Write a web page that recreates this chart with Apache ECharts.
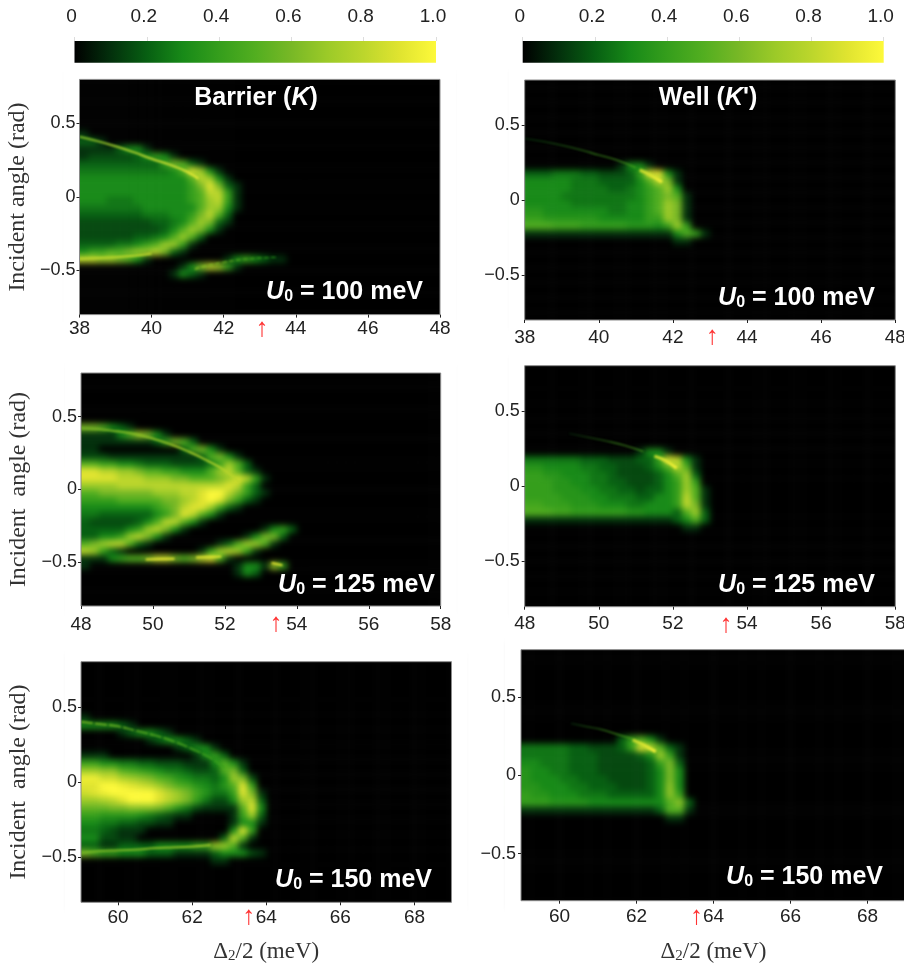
<!DOCTYPE html>
<html><head><meta charset="utf-8">
<script src="https://cdn.jsdelivr.net/npm/echarts@6/dist/echarts.min.js"></script>
<style>html,body{margin:0;padding:0;background:#fff;overflow:hidden;width:904px;height:967px}#c{width:940px;height:967px}</style>
</head><body><div id="c"></div>
<script>
// Heat rows: top row y=0.8..0.75, each row 0.05 rad; each column 0.25 meV.
// Digit = value*10; h .15, j .25, k .35, m .45, n .55, p .65, q .75, r .85, s .95, a 1.0
const rowsBarrier100 = ["","","","","","","",
"1","221","1111233 1","1hhhhh23431","22222222 246521","jjjjjjjjjj 359731","333333333333 58731","333333333333 469621","333333333333 458841","333jjj333333 457841","jjjjjjj33333 3 57731","2222222jjj33 468 52","hhhhhhhh22j3 576 21","hhhhhhhhh2 3576 31","hhhhhh22j3 5752","2222jj3457741","34455 6778621","88776 531 00000000 1343211","00000000000 1368741","0000000000 1321"];
const rowsWell100 = ["","","","","","","","","","","","0000000000 1331",
"222jjj22hhh 249931","33333jjj222 2 35861","33333jjjj22j 34573","3333jjjjjjjj 345651","33333jjjjjj3 345761","kk3333333jj3 345761","44kkkkkk3333 344761","555mmm44444k kk3474","111111111111111 13541","0000000000000000 11"];
const rowsBarrier125 = ["","","","","","","",
"66532 1","1111 357631","11111111 246 52","1100000000 0 25631","hhh1111111111 25631","55443 3j222hhhhj 4752","99887 76554433 3 5785 21","9999 8887776655 56798 41","7777 8888888888 88 98 42","5566 666 677788 9aa864 21","4444 555556678 9a96421","33333333 456899 7421","jj222222 3469853 1","2hhhhh235 88 5 31","22222347 86 31 00000000 1342","22334 7 8 6 3 1 00000000 13662","567885 21 0000000 125775 1","87421 00000000 1 47874 1","11134 556 88 656 8951","1 0000000000000000 1331 74","00000000000000000 132"];
const rowsWell125 = ["","","","","","","","","","","","000000000000 1331",
"jjjjjj222hhh22 49831","kk3333jj22hhh 23 5851","44kk333jj2hhhh 23572","444kk33jj22hhh 23474","444kkk33jj22h 2234751","4444kkk33jjj2 2334851","mm444kkk333jj 3334861","555mm444444kk 3332572","111111111111111 12352","00000000000000000 11"];
const rowsBarrier150 = ["","","","","","","",
"1","333321","0000123321","0000000123321","000000000012331","111000000000 1342","4433jj22hhh111 3531","77pp5m4k3jj2hh2562","ssrrq7p65mk3jj2376h","99aas9r8765mk3jk594","r9saaaaa9876mkjj4961","77q89aaa98764jhh3782","nnn66ppp65kjh111159 3","44kkkk3j2h110000 1472","33jj22hh11000000 1331","jj2h111000000000 394","33hh11000000000 2851","221122223333 447751","65443332221111 2333h1","00000000000000 11"];
const rowsWell150 = ["","","","","","","","","","","","0000000000 24531",
"jjjjj22hhh24 98521","jjjjj222hhhh 23741","33jjj222hhhhh2 462","k33jj222hhhhh 2363","k333jj222hhhh2363","kk333jj222hhh23p3","4kk333jjj22222 3p4","444kkkk33333333 5p2","11111111111111 2551","000000000000000 11"];

const xTicksA = [38,40,42,44,46,48];
const xTicksB = [48,50,52,54,56,58];
const xTicksC = [60,62,64,66,68];
const yTicks = [-0.5,0,0.5];
const colorTicks = [0,0.2,0.4,0.6,0.8,1];

// Thin ridges
const ridgeA1x=[38,38.5,39,39.5,40,40.5,41,41.3], ridgeA1y=[0.41,0.38,0.345,0.305,0.26,0.22,0.17,0.125];
const ridgeA2x=[38,38.5,39,39.5,40], ridgeA2y=[-0.42,-0.415,-0.41,-0.4,-0.385];
const ridgeA3x=[41.2,41.5,42,42.5,43,43.5], ridgeA3y=[-0.49,-0.47,-0.445,-0.425,-0.415,-0.41];
const ridgeB1x=[38,38.5,39,39.5,40,40.5,41], ridgeB1y=[0.41,0.39,0.365,0.335,0.3,0.265,0.215];
const ridgeB2x=[41.1,41.4,41.7], ridgeB2y=[0.2,0.165,0.12];
const ridgeC1x=[48,48.5,49,49.5,50,50.5,51,51.5,52,52.4], ridgeC1y=[0.42,0.415,0.4,0.38,0.35,0.31,0.26,0.2,0.13,0.05];
const ridgeC2x=[49.8,50.2,50.6], ridgeC2y=[-0.48,-0.478,-0.475];
const ridgeC3x=[51.2,51.6,51.9], ridgeC3y=[-0.467,-0.463,-0.46];
const ridgeC5x=[53.3,53.6], ridgeC5y=[-0.505,-0.52];
const ridgeD1x=[49.2,49.7,50.2,50.7,51.2], ridgeD1y=[0.35,0.325,0.3,0.27,0.23];
const ridgeD2x=[51.5,51.8,52.1], ridgeD2y=[0.2,0.17,0.12];
const ridgeE1x=[59,59.5,60,60.5,61,61.5,62,62.5,62.9], ridgeE1y=[0.4,0.385,0.37,0.34,0.31,0.27,0.22,0.16,0.09];
const ridgeE2x=[59,59.5,60,60.5,61,61.5,62,62.5], ridgeE2y=[-0.47,-0.46,-0.455,-0.45,-0.44,-0.435,-0.43,-0.42];
const ridgeF1x=[60.3,60.7,61.1,61.5,61.9], ridgeF1y=[0.33,0.31,0.29,0.26,0.23];
const ridgeF2x=[61.9,62.2,62.5], ridgeF2y=[0.225,0.19,0.15];

const arrowX = [43.06,43.06,53.42,53.43,63.53,63.56];
const cmap = ['#000000','#03300c','#075f12','#188a18','#359e1c','#52ae20','#78b826','#9cca28','#bcd62c','#e0e430','#fdf93a'];
const halfSteps = {h:.15,j:.25,k:.35,m:.45,n:.55,p:.65,q:.75,r:.85,s:.95,a:1};

const panels = [
 {rows:rowsBarrier100,x0:38,x1:48,ticks:xTicksA,l:79.5,r:440,t:79.4,b:314.6,lm:5,ym:4,arrowDy:14,u:'100',ux:423,uy:292,ytitle:'Incident angle (rad)',yg:50,head:'{b|Barrier (}{i|K}{b|)}',hx:256,hy:98},
 {rows:rowsWell100,x0:38,x1:48,ticks:xTicksA,l:524.7,r:895.3,t:80,b:320,lm:8,ym:5,arrowDy:17,u:'100',ux:875,uy:298,head:"{b|Well (}{i|K}{b|')}",hx:708,hy:98},
 {rows:rowsBarrier125,x0:48,x1:58,ticks:xTicksB,l:81,r:440.7,t:373,b:606,lm:9,ym:4,arrowDy:18,u:'125',ux:435,uy:585,ytitle:'Incident  angle (rad)',yg:50},
 {rows:rowsWell125,x0:48,x1:58,ticks:xTicksB,l:524.7,r:895.3,t:365.7,b:606.7,lm:8,ym:5,arrowDy:18,u:'125',ux:875,uy:585},
 {rows:rowsBarrier150,x0:59,x1:69,ticks:xTicksC,l:81,r:451.5,t:661.7,b:902.3,lm:6,ym:4,arrowDy:15,u:'150',ux:432,uy:880,ytitle:'Incident  angle (rad)',yg:50,xtitle:true,xg:38.5},
 {rows:rowsWell150,x0:59,x1:69,ticks:xTicksC,l:521,r:906,t:649.7,b:900.7,lm:7,ym:5,arrowDy:16,u:'150',ux:883,uy:877,xtitle:true,xg:40}
];
const ridges = [
 {p:0,x:ridgeA1x,y:ridgeA1y,c:['#7cba28','#e8ea36'],w:2},{p:0,x:ridgeA2x,y:ridgeA2y,c:['#bcd62c','#bcd62c'],w:2},{p:0,x:ridgeA3x,y:ridgeA3y,c:['#9cca28','#188a18'],w:1.3,dash:[5,2]},
 {p:1,x:ridgeB1x,y:ridgeB1y,c:['#03300c','#52ae20'],w:1.2},{p:1,x:ridgeB2x,y:ridgeB2y,c:['#bcd62c','#f8f238'],w:3},
 {p:2,x:ridgeC1x,y:ridgeC1y,c:['#78b826','#bcd62c'],w:1.8},{p:2,x:ridgeC2x,y:ridgeC2y,c:['#e0e430','#e0e430'],w:2},{p:2,x:ridgeC3x,y:ridgeC3y,c:['#e0e430','#e0e430'],w:2},{p:2,x:ridgeC5x,y:ridgeC5y,c:['#e0e430','#e0e430'],w:2},
 {p:3,x:ridgeD1x,y:ridgeD1y,c:['#03200a','#52ae20'],w:1.2},{p:3,x:ridgeD2x,y:ridgeD2y,c:['#bcd62c','#f8f238'],w:3},
 {p:4,x:ridgeE1x,y:ridgeE1y,c:['#8cc428','#359e1c'],w:1.5,dash:[12,2]},{p:4,x:ridgeE2x,y:ridgeE2y,c:['#78b826','#a8cc2c'],w:1.7},
 {p:5,x:ridgeF1x,y:ridgeF1y,c:['#03200a','#52ae20'],w:1.2},{p:5,x:ridgeF2x,y:ridgeF2y,c:['#bcd62c','#f8f238'],w:3}
];

const SANS='"Liberation Sans",Arial,sans-serif', SERIF='"Liberation Serif","Times New Roman",serif';
const nx=40, ny=32, minus=v=>String(v).replace('-','\u2212');
const grid=[],xAxis=[],yAxis=[],series=[],heatIdx=[],masks=[],texts=[];
const richText={b:{fontFamily:SANS,fontWeight:'bold',fontSize:25,fill:'#fff'},i:{fontFamily:SANS,fontWeight:'bold',fontStyle:'italic',fontSize:25,fill:'#fff'},s:{fontFamily:SANS,fontWeight:'bold',fontSize:16,fill:'#fff',verticalAlign:'bottom',padding:[8,0,0,0]}};
const cellValue=c=>{if(!c) return 0; return c in halfSteps?halfSteps[c]:+c/10;};

panels.forEach((p,k)=>{
  const cw=(p.r-p.l)/nx, ch=(p.b-p.t)/ny;
  // padded heat grid: one extra cell each side so the soft layer reaches the frame
  grid.push({left:p.l-cw,top:p.t-ch,width:p.r-p.l+2*cw,height:p.b-p.t+2*ch,show:false});
  const hg=grid.length-1;
  xAxis.push({type:'category',gridIndex:hg,show:false,data:Array.from({length:nx+2},(_,i)=>i)});
  yAxis.push({type:'category',gridIndex:hg,show:false,data:Array.from({length:ny+2},(_,i)=>i)});
  const hx=xAxis.length-1, hy=yAxis.length-1;
  const data=[];
  for(let iy=0;iy<ny+2;iy++){
    const row=iy>=1&&iy<=ny?(p.rows[iy-1]||'').replace(/ /g,''):'';
    for(let ix=0;ix<nx+2;ix++){
      const c=iy>=1&&iy<=ny?(ix===0?row[0]:row[ix-1]):'0';
      data.push([ix,ny+1-iy,cellValue(c)]);
    }
  }
  heatIdx.push(series.length);
  series.push({type:'heatmap',xAxisIndex:hx,yAxisIndex:hy,data,zlevel:0,animation:false,progressive:0,silent:true,itemStyle:{borderWidth:0}});

  grid.push({left:p.l,top:p.t,width:p.r-p.l,height:p.b-p.t,show:true,backgroundColor:'transparent',borderColor:'#8a8a8a',borderWidth:1,zlevel:3});
  const ag=grid.length-1;
  xAxis.push({type:'value',gridIndex:ag,min:p.x0,max:p.x1,zlevel:3,splitLine:{show:false},axisLine:{show:false,onZero:false},
    axisTick:{show:true,length:3,lineStyle:{color:'#222'},customValues:p.ticks},
    axisLabel:{customValues:p.ticks,margin:p.lm,fontFamily:SANS,fontSize:19,color:'#222'},
    name:p.xtitle?'{n|\u0394}{m|2}{n|/2 (meV)}':'',nameLocation:'middle',nameGap:p.xg||0,
    nameTextStyle:{rich:{n:{fontFamily:SERIF,fontSize:23,color:'#333'},m:{fontFamily:SERIF,fontSize:15,color:'#333',verticalAlign:'bottom',padding:[8,0,0,0]}}}});
  yAxis.push({type:'value',gridIndex:ag,min:-0.8,max:0.8,zlevel:3,splitLine:{show:false},axisLine:{show:false,onZero:false},
    axisTick:{show:true,length:3,lineStyle:{color:'#222'},customValues:yTicks},
    axisLabel:{customValues:yTicks,margin:p.ym,fontFamily:SANS,fontSize:18,color:'#222',formatter:minus},
    name:p.ytitle||'',nameLocation:'middle',nameGap:p.yg||0,nameRotate:90,nameTextStyle:{fontFamily:SERIF,fontSize:24,color:'#333'}});
  const ax=xAxis.length-1, ay=yAxis.length-1;
  ridges.filter(r=>r.p===k).forEach(r=>{
    series.push({type:'line',xAxisIndex:ax,yAxisIndex:ay,data:r.x.map((v,i)=>[v,r.y[i]]),smooth:true,showSymbol:false,symbol:'none',animation:false,silent:true,zlevel:1,
      lineStyle:{color:new echarts.graphic.LinearGradient(0,0,1,0,[{offset:0,color:r.c[0]},{offset:1,color:r.c[1]}]),width:r.w,type:r.dash||'solid'}});
  });
  series.push({type:'scatter',xAxisIndex:ax,yAxisIndex:ay,data:[[arrowX[k],-0.8]],symbolSize:1,itemStyle:{color:'transparent'},clip:false,animation:false,silent:true,zlevel:3,
    label:{show:true,position:'inside',offset:[0,p.arrowDy],formatter:'\u2191',fontFamily:SANS,fontWeight:'bold',fontSize:26,color:'#f00'}});
  masks.push({type:'rect',zlevel:2,silent:true,shape:{x:p.l-8,y:p.t-8,width:p.r-p.l+16,height:p.b-p.t+16},style:{fill:null,stroke:'#fff',lineWidth:16}});
  texts.push({type:'text',zlevel:3,silent:true,x:p.ux,y:p.uy,style:{text:'{i|U}{s|0}{b| = '+p.u+' meV}',rich:richText,align:'right',verticalAlign:'middle'}});
  if(p.head) texts.push({type:'text',zlevel:3,silent:true,x:p.hx,y:p.hy,style:{text:p.head,rich:richText,align:'center',verticalAlign:'middle'}});
});

// colour bars
[[74.5,436],[522.7,883.7]].forEach(b=>{
  grid.push({left:b[0],top:41,width:b[1]-b[0],height:21.7,show:false});
  const g=grid.length-1;
  xAxis.push({type:'value',gridIndex:g,position:'top',min:0,max:1,zlevel:3,splitLine:{show:false},axisLine:{show:false,onZero:false},
    axisTick:{show:true,length:4,lineStyle:{color:'#ddd'},customValues:colorTicks},
    axisLabel:{customValues:colorTicks,margin:15,fontFamily:SANS,fontSize:19,color:'#222',padding:[0,6,0,0],formatter:v=>v===1?'1.0':String(v)}});
  yAxis.push({type:'value',gridIndex:g,min:0,max:1,show:false});
  series.push({type:'line',xAxisIndex:xAxis.length-1,yAxisIndex:yAxis.length-1,data:[],zlevel:3,animation:false,silent:true,
    markArea:{silent:true,animation:false,zlevel:3,data:[[{xAxis:0,yAxis:0,itemStyle:{opacity:1,color:new echarts.graphic.LinearGradient(0,0,1,0,cmap.map((c,i)=>({offset:i/10,color:c})))}},{xAxis:1,yAxis:1}]]}});
});

const chart=echarts.init(document.getElementById('c'),null,{renderer:'canvas'});
chart.setOption({animation:false,backgroundColor:'transparent',grid,xAxis,yAxis,series,
  visualMap:{show:false,type:'continuous',min:0,max:1,dimension:2,seriesIndex:heatIdx,inRange:{color:cmap}},
  graphic:{elements:masks.concat(texts)}});
function soften(){
  const c0=document.querySelector('canvas[data-zr-dom-id="zr_0"]'), c1=document.querySelector('canvas[data-zr-dom-id="zr_1"]');
  if(c0) c0.style.filter='blur(3px)';
  if(c1) c1.style.filter='blur(0.9px)';
}
soften(); chart.on('finished',soften);
</script></body></html>
